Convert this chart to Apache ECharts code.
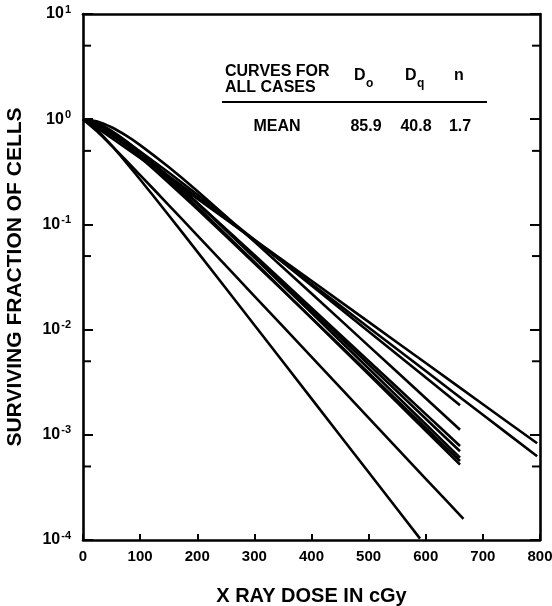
<!DOCTYPE html>
<html>
<head>
<meta charset="utf-8">
<script src="https://cdn.jsdelivr.net/npm/echarts@6/dist/echarts.min.js"></script>
<style>
html,body{margin:0;padding:0;background:#fff;}
#chart{width:552px;height:606px;}
</style>
</head>
<body>
<div id="chart"></div>
<script>
// ---- data ----
const dosesA = [0, 25, 50, 75, 100, 150, 200, 300, 400, 500, 600, 700, 795];
const dosesB = [0, 25, 50, 75, 100, 150, 200, 300, 400, 500, 600, 660];
const dosesC = [0, 25, 50, 75, 100, 150, 200, 300, 400, 500, 600, 666];
const dosesD = [0, 25, 50, 75, 100, 150, 200, 300, 400, 500, 590];

const curve1 = [1, 0.8198, 0.6622, 0.5327, 0.4275, 0.2743, 0.1755, 0.07154, 0.0291, 0.01183, 0.004807, 0.001953, 0.00083];
const curve2 = [1, 0.8557, 0.7017, 0.5671, 0.4547, 0.2884, 0.1812, 0.07048, 0.02722, 0.01048, 0.004033, 0.001551, 0.000625];
const curve3 = [1, 0.8946, 0.7504, 0.6128, 0.4931, 0.3108, 0.1922, 0.07155, 0.02628, 0.009594, 0.003497, 0.001909];
const curve4 = [1, 0.9527, 0.8381, 0.7009, 0.5675, 0.3508, 0.2076, 0.06862, 0.02203, 0.007009, 0.002223, 0.001116];
const curve5 = [1, 0.9036, 0.7511, 0.6012, 0.4707, 0.2781, 0.16, 0.05117, 0.01609, 0.005036, 0.001573, 0.000783];
const curve6 = [1, 0.9131, 0.7638, 0.6126, 0.4794, 0.2813, 0.1602, 0.05004, 0.01534, 0.004674, 0.001422, 0.000697];
const curve7 = [1, 0.9211, 0.7746, 0.622, 0.4858, 0.2828, 0.1593, 0.0484, 0.01441, 0.004267, 0.001261, 0.000607];
const curve8 = [1, 0.8841, 0.7188, 0.5644, 0.4346, 0.2493, 0.1399, 0.04274, 0.01288, 0.003869, 0.00116, 0.000563];
const curve9 = [1, 0.9081, 0.7523, 0.5967, 0.4615, 0.2646, 0.1472, 0.0439, 0.01286, 0.003751, 0.001092, 0.000521];
const curve10 = [1, 0.7623, 0.5601, 0.4072, 0.2946, 0.1528, 0.07882, 0.02085, 0.005504, 0.001451, 0.000382, 0.000159];
const curve11 = [1, 0.7866, 0.563, 0.391, 0.2674, 0.1223, 0.05515, 0.01107, 0.002209, 0.00044, 0.000103];

const yTickValues = [0.0001, 0.001, 0.01, 0.1, 1, 10];
const yTickExponents = ['-4', '-3', '-2', '-1', '0', '1'];
const yMinorTickValues = [5, 0.5, 0.05, 0.005, 0.0005];

const tableHeader = ['CURVES FOR', 'ALL CASES'];
const tableColumns = ['D', 'D', 'n'];
const tableSubscripts = ['o', 'q', ''];
const tableRowLabel = 'MEAN';
const tableRowValues = ['85.9', '40.8', '1.7'];

// ---- build ----
const FONT = '"Liberation Sans", Arial, Helvetica, sans-serif';
function pairs(xs, ys) { return xs.map((x, i) => [x, ys[i]]); }
const curves = [
  [dosesA, curve1], [dosesA, curve2], [dosesB, curve3], [dosesB, curve4],
  [dosesB, curve5], [dosesB, curve6], [dosesB, curve7], [dosesB, curve8],
  [dosesB, curve9], [dosesC, curve10], [dosesD, curve11]
];

const lineSeries = curves.map((c, i) => ({
  type: 'line',
  name: 'curve' + (i + 1),
  data: pairs(c[0], c[1]),
  showSymbol: false,
  smooth: 0.25,
  lineStyle: { color: '#000', width: 2.6 },
  silent: true,
  z: 3
}));

const minorTickSeries = {
  type: 'custom',
  silent: true,
  z: 5,
  data: yMinorTickValues.map(v => [0, v]),
  renderItem: function (params, api) {
    const v = api.value(1);
    const l = api.coord([0, v]);
    const r = api.coord([800, v]);
    return {
      type: 'group',
      children: [
        { type: 'line', shape: { x1: l[0], y1: l[1], x2: l[0] + 8, y2: l[1] }, style: { stroke: '#000', lineWidth: 2 } },
        { type: 'line', shape: { x1: r[0] - 8, y1: r[1], x2: r[0], y2: r[1] }, style: { stroke: '#000', lineWidth: 2 } }
      ]
    };
  }
};

function yLabel(v) {
  let idx = 0, best = Infinity;
  yTickValues.forEach((t, i) => {
    const d = Math.abs(Math.log10(t) - Math.log10(v));
    if (d < best) { best = d; idx = i; }
  });
  return '{b|10}{s|' + yTickExponents[idx] + '}';
}

const axisLine = { show: true, onZero: false, lineStyle: { color: '#000', width: 2.6 } };

const txt = (text, x, y, size, align) => ({
  type: 'text', x: x, y: y, z: 10,
  style: { text: text, font: 'bold ' + size + 'px ' + FONT, fill: '#000', textAlign: align || 'left', textVerticalAlign: 'middle' }
});

const graphics = [
  txt(tableHeader[0], 225, 72, 16),
  txt(tableHeader[1], 225, 88, 16),
  txt(tableColumns[0], 354, 76, 16),
  txt(tableSubscripts[0], 366, 84, 12),
  txt(tableColumns[1], 405, 76, 16),
  txt(tableSubscripts[1], 417, 84, 12),
  txt(tableColumns[2], 459, 76, 16, 'center'),
  { type: 'line', z: 10, shape: { x1: 222, y1: 102, x2: 487, y2: 102 }, style: { stroke: '#000', lineWidth: 2 } },
  txt(tableRowLabel, 277, 127, 16, 'center'),
  txt(tableRowValues[0], 366, 127, 16, 'center'),
  txt(tableRowValues[1], 416, 127, 16, 'center'),
  txt(tableRowValues[2], 460, 127, 16, 'center')
];

const chart = echarts.init(document.getElementById('chart'), null, { renderer: 'canvas' });
chart.setOption({
  animation: false,
  backgroundColor: '#fff',
  grid: { left: 83, right: 12, top: 14, bottom: 66, containLabel: false, outerBoundsMode: 'none' },
  xAxis: [
    {
      type: 'value', min: 0, max: 800, interval: 100,
      position: 'bottom',
      name: 'X RAY DOSE IN cGy', nameLocation: 'middle', nameGap: 46,
      nameTextStyle: { fontFamily: FONT, fontWeight: 'bold', fontSize: 20, color: '#000' },
      axisLine: axisLine,
      axisTick: { show: true, inside: true, length: 6, lineStyle: { color: '#000', width: 2 } },
      axisLabel: { fontFamily: FONT, fontWeight: 'bold', fontSize: 15, color: '#000', margin: 9 },
      splitLine: { show: false }
    },
    {
      type: 'value', min: 0, max: 800, interval: 100, position: 'top',
      axisLine: axisLine, axisTick: { show: false }, axisLabel: { show: false }, splitLine: { show: false }
    }
  ],
  yAxis: [
    {
      type: 'log', logBase: 10, min: 0.0001, max: 10,
      position: 'left',
      name: 'SURVIVING FRACTION OF CELLS', nameLocation: 'middle', nameGap: 57, nameRotate: 90,
      nameTextStyle: { fontFamily: FONT, fontWeight: 'bold', fontSize: 21, color: '#000' },
      axisLine: axisLine,
      axisTick: { show: true, inside: true, length: 10, lineStyle: { color: '#000', width: 2 } },
      axisLabel: {
        margin: 12,
        formatter: yLabel,
        rich: {
          b: { fontFamily: FONT, fontWeight: 'bold', fontSize: 16, color: '#000' },
          s: { fontFamily: FONT, fontWeight: 'bold', fontSize: 11, color: '#000', verticalAlign: 'bottom', padding: [0, 0, 9, 1] }
        }
      },
      splitLine: { show: false },
      minorTick: { show: false }
    },
    {
      type: 'log', logBase: 10, min: 0.0001, max: 10,
      position: 'right',
      axisLine: axisLine,
      axisTick: { show: true, inside: true, length: 10, lineStyle: { color: '#000', width: 2 } },
      axisLabel: { show: false },
      splitLine: { show: false }
    }
  ],
  graphic: graphics,
  series: lineSeries.concat([minorTickSeries])
});
</script>
</body>
</html>
